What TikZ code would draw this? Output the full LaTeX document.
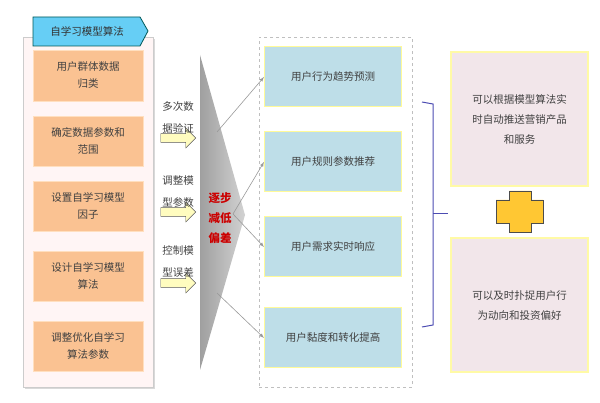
\documentclass[tikz,border=0pt]{standalone}
\usepackage{fontspec}
\setmainfont{Noto Sans CJK SC}
\usetikzlibrary{shapes.arrows,shapes.symbols}
\definecolor{bbf}{RGB}{190,222,232}
\definecolor{pbf}{RGB}{242,230,234}
\definecolor{obf}{RGB}{250,194,146}
\begin{document}
\begin{tikzpicture}[x=1pt,y=-1pt,
 ob/.style={fill=obf,draw=orange!25!white,minimum width=110pt,align=center,font=\fontsize{10.5}{17}\selectfont,text=black!75},
 bb/.style={fill=bbf,draw=yellow!40!white,line width=1pt,minimum width=137pt,minimum height=60pt,font=\fontsize{10.5}{14}\selectfont,text=black!75},
 pb/.style={fill=pbf,draw=yellow!35!white,line width=1.2pt,minimum width=137pt,align=center,font=\fontsize{10.5}{20}\selectfont,text=black!75},
 lab/.style={align=left,font=\fontsize{10.5}{22}\selectfont,text=black!75},
 sa/.style={single arrow,draw=gray!70!black,fill=yellow!25!white,minimum width=20pt,single arrow head extend=4pt,minimum height=35pt,inner sep=3pt},
 ga/.style={draw=gray!80,-latex,line width=0.6pt}]
\useasboundingbox (0,0) rectangle (600,403);
% left panel
\fill[gray!30] (25,39) rectangle (155,389);
\node[fill=red!4!white,draw=gray!40,minimum width=130pt,minimum height=350pt,anchor=north west,inner sep=0] (lp) at (23,37) {};
\node[ob,minimum height=51pt] (o1) at (88,75.5) {用户群体数据\\归类};
\node[ob,minimum height=50pt] (o2) at (88,141) {确定数据参数和\\范围};
\node[ob,minimum height=50pt] (o3) at (88,206) {设置自学习模型\\因子};
\node[ob,minimum height=50pt] (o4) at (88,276) {设计自学习模型\\算法};
\node[ob,minimum height=50pt] (o5) at (88,346) {调整优化自学习\\算法参数};
\draw[draw=teal!70!black,fill=cyan!60!white,line width=0.8pt] (33,17)--(140,17)--(148,31)--(140,46)--(33,46)--cycle;
\node[font=\fontsize{10.5}{12}\selectfont,text=black!80] (tt) at (87,31.5) {自学习模型算法};
% wedge
\shade[left color=gray!75,right color=gray!35] (200,55)--(245,215)--(200,370)--cycle;
\node[lab,text=red!80!black,font=\bfseries\fontsize{11.5}{20}\selectfont] (rt) at (220,218) {逐步\\减低\\偏差};
% small arrows and labels
\node[sa] (a1) at (176,138) {};
\node[sa] (a2) at (176,212) {};
\node[sa] (a3) at (176,283) {};
\node[lab] (l1) at (178,118) {多次数\\据验证};
\node[lab] (l2) at (178,192) {调整模\\型参数};
\node[lab] (l3) at (178,262) {控制模\\型误差};
% dashed box
\node[draw=gray!50,dashed,minimum width=153pt,minimum height=350pt,anchor=north west,inner sep=0] (db) at (259,37) {};
\node[bb] (b1) at (333,77) {用户行为趋势预测};
\node[bb] (b2) at (333,162) {用户规则参数推荐};
\node[bb] (b3) at (333,247) {用户需求实时响应};
\node[bb] (b4) at (333,338) {用户黏度和转化提高};
\coordinate (w1) at (217,132);
\coordinate (w2) at (233,214);
\coordinate (w3) at (217,293);
\draw[ga] (w1) -- (b1.west);
\draw[ga] (w2) -- (b2.west);
\draw[ga] (w2) -- (b3.west);
\draw[ga] (w3) -- (b4.west);
% bracket
\draw[draw=blue!40!gray,line width=1pt] (422,102) -- (433,104) -- (433,325) -- (422,327);
\draw[draw=blue!40!gray,line width=1pt] (433,214) -- (448,214);
% right boxes
\node[pb,minimum height=134pt] (p1) at (519.5,119) {可以根据模型算法实\\时自动推送营销产品\\和服务};
\node[pb,minimum height=134pt] (p2) at (519.5,305) {可以及时扑捉用户行\\为动向和投资偏好};
\draw[fill=orange!55!yellow!80!white,draw=black!70,line width=0.6pt] (509,191)--(531,191)--(531,200)--(543,200)--(543,223)--(531,223)--(531,232)--(509,232)--(509,223)--(496,223)--(496,200)--(509,200)--cycle;
\end{tikzpicture}
\end{document}
